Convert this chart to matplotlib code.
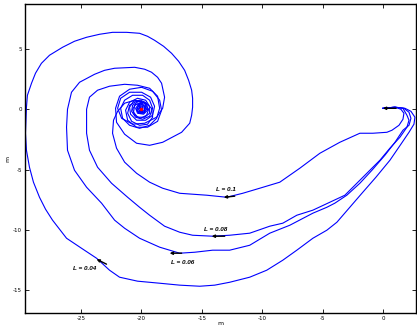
import matplotlib
matplotlib.use('Agg')
import matplotlib.pyplot as plt
import numpy as np

# trajectories (x, y) in metres
x_004 = [0, 1.00, 1.82, 2.32, 2.65, 2.57, 2.16, 1.49, 0.58, -0.58, -1.74, -2.74, -3.81, -4.64, -5.80,
         -7.13, -8.29, -9.62, -11.03, -12.69, -13.93, -15.17, -16.83, -18.49, -20.32, -21.81, -22.64,
         -23.71, -24.96, -26.20, -26.78, -27.36, -27.94, -28.44, -28.94, -29.27, -29.52, -29.60, -29.52,
         -29.44, -29.10, -28.77, -28.28, -27.61, -26.53, -25.54, -24.54, -23.46, -22.39, -21.23, -20.15,
         -19.49, -18.91, -18.16, -17.50, -16.92, -16.42, -16.09, -15.84, -15.76, -15.76, -15.84, -16.00,
         -16.67, -18.24, -19.32, -20.40,
         -21.39, -22.06, -22.14, -21.81, -20.98, -19.98, -19.07, -18.49, -18.33, -18.66, -19.49, -20.40,
         -21.14, -21.31, -20.98, -20.32, -19.65, -19.32, -19.32, -19.73, -20.32, -20.65, -20.56, -20.15,
         -19.73, -19.73, -20.07, -20.32, -20.15, -19.98, -20.07]
y_004 = [0.08, 0.17, 0.08, -0.17, -0.66, -1.24, -1.91, -2.90, -4.23, -5.64, -6.97, -8.13, -9.37, -10.03,
         -10.70, -11.69, -12.52, -13.35, -13.93, -14.35, -14.59, -14.68, -14.59, -14.43, -14.26, -13.93,
         -13.35, -12.36, -11.53, -10.70, -9.95, -9.20, -8.29, -7.30, -6.05, -4.81, -3.40, -1.99, 0.17,
         1.16, 2.16, 2.99, 3.81, 4.48, 5.14, 5.64, 5.97, 6.22, 6.38, 6.38, 6.30,
         6.05, 5.72, 5.22, 4.64, 3.98, 3.23, 2.40, 1.58, 0.91, 0.17, -0.50, -1.16,
         -1.91, -2.74, -2.99, -2.82, -2.07, -1.08, 0.08, 1.08,
         1.66, 1.82, 1.49, 0.75, -0.08, -1.00, -1.49, -1.49, -0.91, -0.08, 0.58, 0.91, 0.75, 0.25, -0.33,
         -0.66, -0.66, -0.25, 0.33, 0.50, 0.25, -0.17, -0.33, -0.08, 0.17, 0.08, 0]

x_006 = [0, 1.00, 1.74, 2.16, 2.32, 2.16, 1.66, 1.00, 0.17, -0.91, -1.91, -2.99, -3.98, -4.64, -5.80,
         -7.71, -9.37, -11.03, -12.69, -14.10, -15.59, -16.83, -18.49, -20.15, -21.39, -22.22, -23.30,
         -24.54, -25.54, -26.12, -26.20, -26.12, -25.79, -25.12, -23.88, -23.05, -22.22, -20.56, -19.73,
         -19.16, -18.66, -18.33,
         -18.08, -18.24, -18.74, -19.73, -20.73, -21.64, -21.97, -21.72, -20.98, -19.98, -19.24, -18.91,
         -19.07, -19.65, -20.40, -20.90, -20.98, -20.65, -20.07, -19.57, -19.49, -19.82, -20.32, -20.48,
         -20.23, -19.82, -19.73, -20.07, -20.23, -20.07, -20.07]
y_006 = [0.08, 0.17, 0.08, -0.25, -0.75, -1.33, -1.74, -2.74, -3.81, -5.06, -6.14, -7.13, -7.79, -8.13,
         -8.62, -9.62, -10.28, -11.28, -11.69, -11.69, -11.86, -11.94, -11.44, -10.70, -9.87, -9.20, -7.79,
         -6.47, -5.06, -3.40, -1.49, 0, 1.41, 2.24, 2.90, 3.23, 3.40, 3.48, 3.32, 3.07, 2.65, 2.16, 1.00,
         0.08, -0.66, -1.16,
         -1.24, -0.75, 0.08, 0.91, 1.41, 1.41, 1.00, 0.25, -0.50, -0.91, -0.91, -0.41, 0.17, 0.66, 0.75,
         0.50, -0.08, -0.41, -0.33, 0.08, 0.41, 0.33, -0.08, -0.25, 0, 0.17, 0]

x_008 = [0, 1.00, 1.66, 1.99, 2.16, 1.99, 1.41, 0.58, -0.25, -1.08, -2.16, -3.15, -4.39, -5.80, -7.13,
         -8.29, -9.37, -11.03, -12.69, -14.10, -15.76, -16.83, -18.08, -19.32, -20.15, -21.14, -22.47,
         -23.63, -24.30, -24.54, -24.54, -24.30, -23.63, -22.64, -21.39, -20.32, -19.32, -18.66, -18.49,
         -18.74, -19.32, -20.15, -20.98, -21.56, -21.72, -21.39, -20.73, -19.90, -19.32, -19.07, -19.32,
         -19.90, -20.48, -20.81, -20.73, -20.23, -19.73, -19.57, -19.82, -20.23, -20.40, -20.23, -19.90,
         -19.90, -20.15, -20.07]
y_008 = [0.08, 0.17, 0.08, -0.50, -0.91, -1.49, -2.32, -3.23, -4.23, -5.06, -6.14, -7.13, -7.71, -8.37,
         -8.79, -9.45, -9.70, -10.28, -10.45, -10.53, -10.45, -10.20, -9.70, -8.79, -8.13, -7.30, -6.14,
         -4.81, -3.40, -1.99, 0, 1.00, 1.58, 1.91, 2.07, 1.99, 1.74, 1.08, 0.08, -0.75, -1.33, -1.58, -1.33,
         -0.75, 0.08, 0.75, 1.16, 1.16, 0.75, 0.08, -0.58, -0.83, -0.66, -0.17, 0.33, 0.66, 0.50, 0, -0.33,
         -0.33, 0, 0.33, 0.25, -0.08, -0.17, 0]

x_010 = [0, 1.00, 1.49, 1.74, 1.66, 1.33, 0.75, 0.33, -0.83, -1.91, -3.57, -5.22, -6.88, -8.54, -10.20,
         -11.61, -12.94, -14.59, -16.83, -18.24, -19.32, -20.40, -21.39, -22.06, -22.39, -22.31, -21.97,
         -21.39, -20.56, -19.73, -19.16, -19.07, -19.49, -20.15, -20.81, -21.14, -20.98, -20.40, -19.73,
         -19.40, -19.57, -20.07, -20.56, -20.73, -20.48, -19.98, -19.65, -19.73, -20.15, -20.40, -20.23,
         -19.90, -19.90, -20.15, -20.07]
y_010 = [0.08, 0.17, 0, -0.33, -0.83, -1.33, -1.74, -1.91, -1.99, -1.99, -2.74, -3.65, -4.89, -6.05,
         -6.55, -6.97, -7.30, -7.13, -6.97, -6.55, -6.05, -5.31, -4.39, -3.23, -1.99, -0.91, -0.17, 0.50,
         0.75, 0.58, 0.08, -0.66, -1.24, -1.33, -1.00, -0.33, 0.33, 0.66, 0.50, 0, -0.50, -0.75, -0.50, 0,
         0.41, 0.50, 0.17, -0.25, -0.33, -0.08, 0.25, 0.17, -0.17, -0.17, 0]

# direction arrows: (x_tail, y_tail, x_head, y_head)
arrows = [(1.10, 0.08, 0.0, 0.08),
          (-12.27, -7.21, -13.18, -7.30),
          (-13.10, -10.53, -14.18, -10.53),
          (-16.67, -11.94, -17.66, -11.94),
          (-22.89, -12.85, -23.71, -12.44)]

labels = ['L = 0.1', 'L = 0.08', 'L = 0.06', 'L = 0.04']
label_x = [-13.02, -13.85, -16.58, -24.71]
label_y = [-6.63, -9.95, -12.69, -13.18]

target = (-20.07, 0.0)

xticks = [-25, -20, -15, -10, -5, 0]
yticks = [-15, -10, -5, 0, 5]

fig = plt.figure(figsize=(4.17, 3.29), dpi=100)
ax = fig.add_axes([25 / 417, 16 / 329, 391 / 417, 309 / 329])

for xs, ys in [(x_004, y_004), (x_006, y_006), (x_008, y_008), (x_010, y_010)]:
    ax.plot(xs, ys, color='#0000ff', lw=0.8)

ax.plot(*target, 'o', color='red', ms=1.5, zorder=5)

for xt, yt, xh, yh in arrows:
    ax.annotate('', xy=(xh, yh), xytext=(xt, yt),
                arrowprops=dict(arrowstyle='-|>', color='black', lw=1.0,
                                mutation_scale=4, shrinkA=0, shrinkB=0))

for s, lx, ly in zip(labels, label_x, label_y):
    ax.text(lx, ly, s, fontsize=4.6, fontweight='bold', style='italic',
            family='Liberation Sans', ha='center', va='center')

ax.set_xlim(-29.64, 2.74)
ax.set_ylim(-16.9, 8.73)
ax.set_xticks(xticks)
ax.set_yticks(yticks)
ax.set_xticklabels([str(t) for t in xticks])
ax.set_yticklabels([str(t) for t in yticks])
ax.tick_params(direction='in', length=3, width=0.6, labelsize=4,
               top=True, right=True, pad=2)
for s in ax.spines.values():
    s.set_linewidth(1.0)

ax.set_xlabel('m', fontsize=4.5, labelpad=0)
ax.set_ylabel('m', fontsize=4.5, labelpad=2)

fig.savefig('out.png', dpi=100)
